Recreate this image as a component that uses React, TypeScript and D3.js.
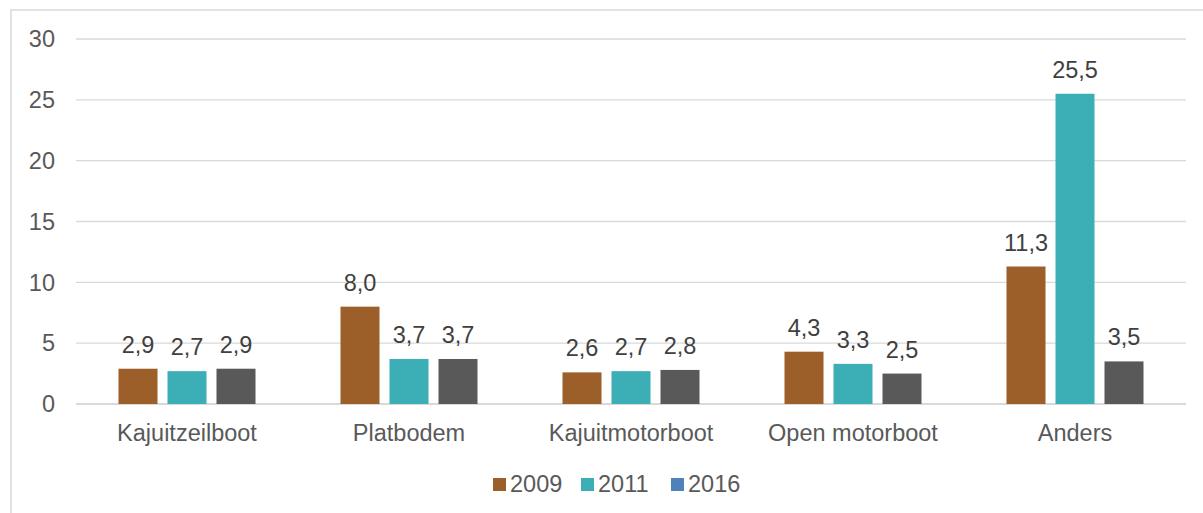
import React from "react";
import { scaleBand, scaleLinear } from "d3";

const categories = ["Kajuitzeilboot", "Platbodem", "Kajuitmotorboot", "Open motorboot", "Anders"];
const years = ["2009", "2011", "2016"];
const values2009 = [2.9, 8.0, 2.6, 4.3, 11.3];
const values2011 = [2.7, 3.7, 2.7, 3.3, 25.5];
const values2016 = [2.9, 3.7, 2.8, 2.5, 3.5];
const yTicks = [0, 5, 10, 15, 20, 25, 30];

const barColors = ["#9C5F2A", "#3BAFB5", "#595959"];
const legendColors = ["#9C5F2A", "#3BAFB5", "#4F81BD"];

const W = 1203;
const H = 513;
const plot = { left: 76, right: 1186, top: 39, bottom: 404 };
const font = "'Liberation Sans', Arial, sans-serif";
const fs = 23.5;

export default function App() {
  const series = [values2009, values2011, values2016];

  const x = scaleBand<string>()
    .domain(categories)
    .range([plot.left, plot.right]);
  const y = scaleLinear().domain([0, 30]).range([plot.bottom, plot.top]);

  const barW = 39;
  const gap = 10;
  const groupW = barW * 3 + gap * 2;

  const legendItems = [
    { x: 493, label: years[0] },
    { x: 581, label: years[1] },
    { x: 671, label: years[2] },
  ];

  return (
    <svg
      width={W}
      height={H}
      style={{ position: "absolute", left: 0, top: 0, background: "#fff" }}
    >
      <rect x={11} y={10} width={W + 20} height={H + 20} fill="#fff" stroke="#d9d9d9" strokeWidth={1.5} />

      {yTicks.map((t) => (
        <g key={t}>
          <line
            x1={plot.left}
            x2={plot.right}
            y1={y(t)}
            y2={y(t)}
            stroke="#d9d9d9"
            strokeWidth={t === 0 ? 2 : 1.3}
          />
          <text
            x={55}
            y={y(t)}
            dy="0.35em"
            textAnchor="end"
            fontFamily={font}
            fontSize={fs}
            fill="#595959"
          >
            {t}
          </text>
        </g>
      ))}

      {categories.map((c, ci) => {
        const cx = (x(c) ?? 0) + x.bandwidth() / 2;
        const start = cx - groupW / 2;
        return (
          <g key={c}>
            {series.map((s, si) => {
              const bx = start + si * (barW + gap);
              const v = s[ci];
              return (
                <g key={si}>
                  <rect
                    x={bx}
                    y={y(v)}
                    width={barW}
                    height={plot.bottom - y(v)}
                    fill={barColors[si]}
                  />
                  <text
                    x={bx + barW / 2}
                    y={y(v) - 16}
                    textAnchor="middle"
                    fontFamily={font}
                    fontSize={fs}
                    fill="#404040"
                  >
                    {v.toFixed(1).replace(".", ",")}
                  </text>
                </g>
              );
            })}
            <text
              x={cx}
              y={441}
              textAnchor="middle"
              fontFamily={font}
              fontSize={fs}
              fill="#595959"
            >
              {c}
            </text>
          </g>
        );
      })}

      {legendItems.map((l, i) => (
        <g key={l.label}>
          <rect x={l.x} y={478} width={13} height={13} fill={legendColors[i]} />
          <text
            x={l.x + 17}
            y={492}
            fontFamily={font}
            fontSize={fs}
            fill="#595959"
          >
            {l.label}
          </text>
        </g>
      ))}
    </svg>
  );
}
